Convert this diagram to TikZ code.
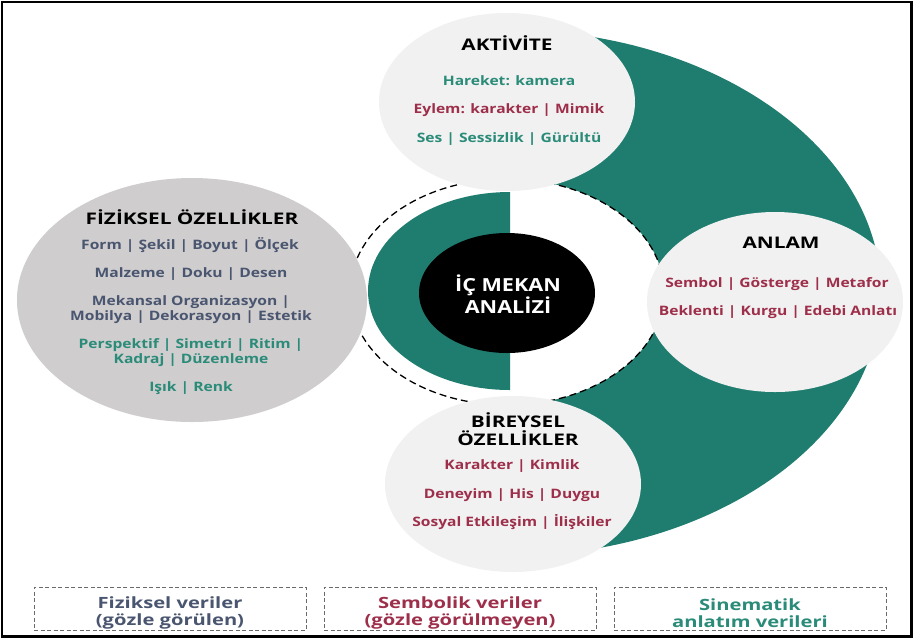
\documentclass[tikz,border=0pt]{standalone}
\usepackage{fontspec}
\setmainfont{Open Sans}[FakeStretch=1.2]
\newfontfamily\ttlfont{Open Sans}[FakeStretch=1.3]
\usetikzlibrary{shapes.geometric}
\definecolor{ringteal}{HTML}{1F7D6F}
\definecolor{lightdisc}{HTML}{F1F1F1}
\definecolor{greydisc}{HTML}{CFCDCE}
\definecolor{slate}{HTML}{4A5670}
\definecolor{maroon}{HTML}{9E2F4B}
\definecolor{tealtext}{HTML}{2A8B79}
\definecolor{boxline}{HTML}{6A6A6A}
\begin{document}
\begin{tikzpicture}[x=1pt,y=-1pt,
  disc/.style={ellipse, inner sep=0pt, draw=none},
  ttl/.style={font=\ttlfont\bfseries\fontsize{16}{18}\selectfont, text=black, align=center},
  sub/.style={font=\bfseries\fontsize{13}{15}\selectfont, align=center},
  one/.style={text height=1.5ex, text depth=0.25ex},
  legendbox/.style={draw=boxline, dashed, dash pattern=on 4pt off 2.5pt, line width=0.8pt, minimum width=272pt, minimum height=43pt, inner sep=0pt},
  legendtxt/.style={font=\ttlfont\bfseries\fontsize{15.5}{17}\selectfont, align=center}
]
\useasboundingbox (0,0) rectangle (915,641);
\fill[white] (0,0) rectangle (915,641);
\draw[line width=2.5pt] (2,2) rectangle (911.5,636.5);

% big teal half ring
\begin{scope}
  \clip (507,0) rectangle (915,641);
  \fill[ringteal, even odd rule] (507,293) ellipse [x radius=374, y radius=263]
                                  (507,292) ellipse [x radius=157, y radius=113];
\end{scope}
% dashed ellipse
\draw[dashed, dash pattern=on 7pt off 4pt, line width=1.3pt] (507,292) ellipse [x radius=157, y radius=113];
% inner teal half disc
\begin{scope}
  \clip (0,0) rectangle (510,641);
  \fill[ringteal] (510,291) ellipse [x radius=142, y radius=99];
\end{scope}

% centre
\node[disc, fill=black, minimum width=176pt, minimum height=120pt] (core) at (507,293) {};
\node[font=\bfseries\fontsize{18}{22}\selectfont, text=white, align=center] (coretxt) at (508,294) {İÇ MEKAN\\ANALİZİ};

% discs
\node[disc, fill=lightdisc, minimum width=256pt, minimum height=178pt] (akt) at (507,102) {};
\node[disc, fill=lightdisc, minimum width=256pt, minimum height=180pt] (anl) at (775,302) {};
\node[disc, fill=lightdisc, minimum width=256pt, minimum height=176pt] (bir) at (513,484) {};
\node[disc, fill=greydisc, minimum width=350pt, minimum height=244pt] (fiz) at (192,300) {};

% AKTIVITE
\node[ttl, one] (aktT) at (507,47) {AKTİVİTE};
\node[sub, one, text=tealtext] (akt1) at (509,82) {Hareket: kamera};
\node[sub, one, text=maroon] (akt2) at (509,110) {Eylem: karakter | Mimik};
\node[sub, one, text=tealtext] (akt3) at (509,139) {Ses | Sessizlik | Gürültü};

% ANLAM
\node[ttl, one] (anlT) at (781,245) {ANLAM};
\node[sub, one, text=maroon] (anl1) at (777,284) {Sembol | Gösterge | Metafor};
\node[sub, one, text=maroon] (anl2) at (778,312) {Beklenti | Kurgu | Edebi Anlatı};

% BIREYSEL
\node[ttl] (birT) at (518,429) {BİREYSEL\\ÖZELLİKLER};
\node[sub, one, text=maroon] (bir1) at (512,466) {Karakter | Kimlik};
\node[sub, one, text=maroon] (bir2) at (512,495) {Deneyim | His | Duygu};
\node[sub, one, text=maroon] (bir3) at (512,523) {Sosyal Etkileşim | İlişkiler};

% FIZIKSEL
\node[ttl, one] (fizT) at (192,221) {FİZİKSEL ÖZELLİKLER};
\node[sub, one, text=slate] (fiz1) at (190,246) {Form | Şekil | Boyut | Ölçek};
\node[sub, one, text=slate] (fiz2) at (191,274) {Malzeme | Doku | Desen};
\node[sub, text=slate] (fiz3) at (191,310) {Mekansal Organizasyon |\\Mobilya | Dekorasyon | Estetik};
\node[sub, text=tealtext] (fiz4) at (191,353) {Perspektif | Simetri | Ritim |\\Kadraj | Düzenleme};
\node[sub, one, text=tealtext] (fiz5) at (191,388) {Işık | Renk};

% legend
\node[legendbox] (lg1) at (170,608.5) {};
\node[legendbox] (lg2) at (460,608.5) {};
\node[legendbox] (lg3) at (750,608.5) {};
\node[legendtxt, text=slate] (lg1t) at (170,613) {Fiziksel veriler\\(gözle görülen)};
\node[legendtxt, text=maroon] (lg2t) at (460,613) {Sembolik veriler\\(gözle görülmeyen)};
\node[legendtxt, text=tealtext] (lg3t) at (750,613) {Sinematik\\anlatım verileri};
\end{tikzpicture}
\end{document}
